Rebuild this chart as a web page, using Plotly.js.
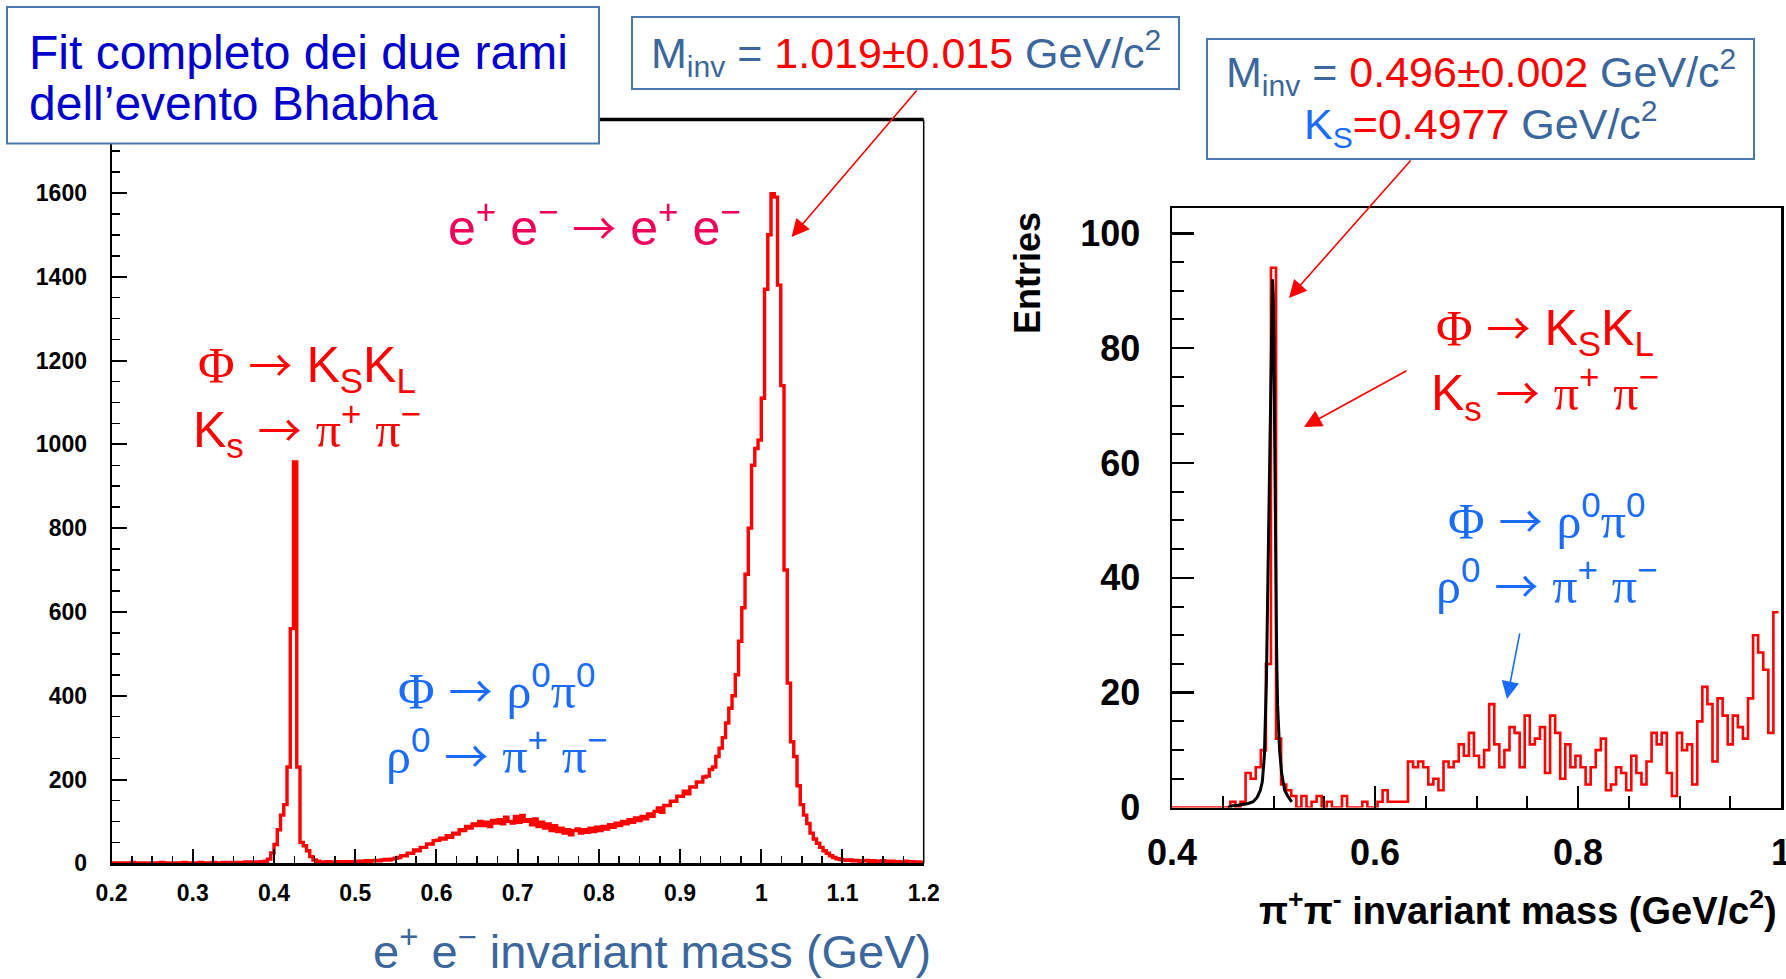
<!DOCTYPE html>
<html><head><meta charset="utf-8">
<script src="https://cdn.plot.ly/plotly-3.0.1.min.js"></script>
<style>html,body{margin:0;padding:0;background:#fff;} #chart{width:1786px;height:979px;}</style>
</head><body><div id="chart"></div>
<script>
// ---------- DATA ----------
// Left histogram: e+ e- invariant mass, bins of 0.004 GeV from 0.2 to 1.2
const leftBinStart = 0.2;
const leftBinWidth = 0.004;
const leftCounts = [
 1,0,1,1,0,1,2,1,0,1, 1,1,0,1,1,2,1,1,0,1, 1,1,2,1,1,0,1,2,1,1, 1,2,1,1,2,1,2,2,1,2,
 2,3,2,3,3,
 3,4,5,10,25,45,80,115,140,230,
 560,958,230,
 50,42,30,16,8,5,
 3,3,4,3,3,4,3,4,4,3,4,5,4,5,6,5,
 6,7,6,8,9,8,10,12,
 14,18,18,24,24,32,30,38,38,46,46,54,
 55,60,58,66,62,72,70,80,78,88,84,94,90,
 100,90,98,88,102,96,104,94,110,100,96,112,
 98,114,100,104,92,106,88,98,84,94,78,90,76,
 84,72,80,68,78,82,72,80,74,84,76,86,
 78,88,82,92,86,96,90,100,94,104,98,108,102,
 112,106,118,112,124,132,122,138,138,148,148,160,
 160,172,166,182,182,194,194,206,208,224,
 230,255,275,300,335,370,400,450,530,610,690,800,950,990,1010,
 1110,1370,1500,1598,1590,1380,1140,700,430,290,255,185,140,115,95,72,58,48,38,30,24,18,14,11,9,
 8,7,8,6,7,5,6,7,5,6,5,4,6,5,4,5,4,3,4,5,3,4,3,3,2
];
const leftXTicks = [0.2,0.3,0.4,0.5,0.6,0.7,0.8,0.9,1.0,1.1,1.2];
const leftXTickText = ['0.2','0.3','0.4','0.5','0.6','0.7','0.8','0.9','1','1.1','1.2'];
const leftYTicks = [0,200,400,600,800,1000,1200,1400,1600];
const leftYTickText = ['0','200','400','600','800','1000','1200','1400','1600'];

// Right histogram: pi+ pi- invariant mass, bins of 0.005 GeV/c2
const rightBinStart = 0.3975;
const rightBinWidth = 0.005;
const rightCounts = [
 0,0,0,0,0,0,0,0,0,0,0,0,
 1,0,1,6,5,7,10,25,94,12,
 4,3,2,0,2,0,1,2,0,1,0,0,2,0,0,0,1,0,
 0,1,3,1,1,1,1,
 8,7,8,7,4,5,3,8,7,8,11,9,13,
 9,7,10,18,11,7,10,14,13,7, 16,11,12,14,6,16,13,5,11,7,
 9,7,4,7,10,12,3,4,7,6, 3,9,6,4,8,13,11,13,6,2,
 13,10,11,4,15,21,18,8,19,16, 11,16,14,12,19,30,27,24,13,34
];
// Black K_S peak curve (right plot)
const fitX = [0.455,0.46,0.465,0.47,0.475,0.48,0.484,0.487,0.489,0.491,0.493,0.4945,0.496,0.497,0.498,0.499,0.500,0.501,0.502,0.503,0.504,0.506,0.508,0.511,0.514,0.518];
const fitY = [0,0.3,0.4,0.5,0.7,1.0,1.8,3,4.5,9,22,40,60,66,85,92,88,65,45,28,18,10,6,3,2,1];
const rightXTicks = [0.4,0.6,0.8,1.0];
const rightXTickText = ['0.4','0.6','0.8','1'];
const rightYTicks = [0,20,40,60,80,100];
const rightYTickText = ['0','20','40','60','80','100'];

// ---------- HELPERS ----------
function steps(start, width, counts) {
  const x = [], y = [];
  counts.forEach((c, i) => { x.push(start + i * width); y.push(c); });
  x.push(start + counts.length * width); y.push(counts[counts.length - 1]);
  return {x, y};
}
const W = 1786, H = 979;
const px = v => v / W, py = v => 1 - v / H;
const SANS = "'Liberation Sans', Arial, Helvetica, sans-serif";
const SERIF = "'Liberation Serif','DejaVu Serif',serif";
const sf = s => `<span style="font-family:${SERIF}">${s}</span>`;
const col = (c, s) => `<span style="color:${c}">${s}</span>`;
const RED = '#ff0000', STEEL = '#3b679c', BLUE = '#1a6cff', PINK = '#f0005a', NAVY = '#0000cc', BOXC = '#4a78ad';
const ARW = `<span style="font-family:'Noto Sans CJK JP','DejaVu Sans';font-size:44px">→</span>`;

const L = steps(leftBinStart, leftBinWidth, leftCounts);
const R = steps(rightBinStart, rightBinWidth, rightCounts);

const traces = [
  {x: L.x, y: L.y, type: 'scatter', mode: 'lines', line: {shape: 'hv', color: '#ff0000', width: 3.4}, xaxis: 'x', yaxis: 'y', hoverinfo: 'skip'},
  {x: R.x, y: R.y, type: 'scatter', mode: 'lines', line: {shape: 'hv', color: '#ff0000', width: 2.6}, xaxis: 'x2', yaxis: 'y2', hoverinfo: 'skip'},
  {x: fitX, y: fitY, type: 'scatter', mode: 'lines', line: {color: '#000', width: 3}, xaxis: 'x2', yaxis: 'y2', hoverinfo: 'skip'}
];

const baseAxis = {showgrid: false, zeroline: false, showline: true, linecolor: '#000', ticks: 'inside', tickcolor: '#000', tickmode: 'array', fixedrange: true};

const layout = {
  width: W, height: H, margin: {l: 0, r: 0, t: 0, b: 0},
  paper_bgcolor: '#fff', plot_bgcolor: '#fff', showlegend: false,
  xaxis: Object.assign({}, baseAxis, {
    domain: [px(111.6), px(923.7)], range: [0.2, 1.2], anchor: 'y',
    tickvals: leftXTicks, ticktext: leftXTickText, ticklen: 14, tickwidth: 2, linewidth: 3,
    minor: {tick0: 0.2, dtick: 0.025, ticks: 'inside', ticklen: 7, tickwidth: 1.5, tickcolor: '#000'},
    tickfont: {family: SANS, size: 23, color: '#000', weight: 'bold'}, ticklabelstandoff: 7
  }),
  yaxis: Object.assign({}, baseAxis, {
    domain: [py(863.3), py(119.6)], range: [0, 1775], anchor: 'x',
    tickvals: leftYTicks, ticktext: leftYTickText, ticklen: 15, tickwidth: 2, linewidth: 2,
    minor: {tick0: 0, dtick: 50, ticks: 'inside', ticklen: 8, tickwidth: 1.5, tickcolor: '#000'},
    tickfont: {family: SANS, size: 23, color: '#000', weight: 'bold'}, ticklabelstandoff: 18
  }),
  xaxis2: Object.assign({}, baseAxis, {
    domain: [px(1172), px(1781)], range: [0.4, 1.0], anchor: 'y2', mirror: true,
    tickvals: rightXTicks, ticktext: rightXTickText, ticklen: 22, tickwidth: 2.5, linewidth: 2.5,
    minor: {tick0: 0.4, dtick: 0.05, ticks: 'inside', ticklen: 12, tickwidth: 2, tickcolor: '#000'},
    tickfont: {family: SANS, size: 36, color: '#000', weight: 'bold'}, ticklabelstandoff: 12,
    ticklabeloverflow: 'allow'
  }),
  yaxis2: Object.assign({}, baseAxis, {
    domain: [py(807.5), py(208)], range: [0, 104.4], anchor: 'x2', mirror: true,
    tickvals: rightYTicks, ticktext: rightYTickText, ticklen: 22, tickwidth: 2.5, linewidth: 2.5,
    minor: {tick0: 0, dtick: 5, ticks: 'inside', ticklen: 12, tickwidth: 2, tickcolor: '#000'},
    tickfont: {family: SANS, size: 36, color: '#000', weight: 'bold'}, ticklabelstandoff: 22
  }),
  shapes: [
    {type: 'line', xref: 'x domain', yref: 'y domain', x0: 0, x1: 1, y0: 1, y1: 1, line: {color: '#000', width: 3.5}, layer: 'above'},
    {type: 'line', xref: 'x domain', yref: 'y domain', x0: 1, x1: 1, y0: 0, y1: 1, line: {color: '#000', width: 1.5}, layer: 'above'},
    {type: 'rect', xref: 'paper', yref: 'paper', x0: px(7), x1: px(599), y0: py(143.5), y1: py(7), fillcolor: '#fff', line: {color: BOXC, width: 2}, layer: 'above'},
    {type: 'rect', xref: 'paper', yref: 'paper', x0: px(632), x1: px(1179), y0: py(89), y1: py(17), fillcolor: '#fff', line: {color: BOXC, width: 2}, layer: 'above'},
    {type: 'rect', xref: 'paper', yref: 'paper', x0: px(1207), x1: px(1754), y0: py(159), y1: py(39), fillcolor: '#fff', line: {color: BOXC, width: 2}, layer: 'above'}
  ],
  annotations: []
};

const ann = layout.annotations;
function T(text, x, y, size, color, opts) {
  ann.push(Object.assign({xref: 'paper', yref: 'paper', x: px(x), y: py(y), text: text, showarrow: false,
    font: {family: SANS, size: size, color: color}, xanchor: 'center', yanchor: 'middle', align: 'center'}, opts || {}));
}
function A(tipX, tipY, tailX, tailY, color) {
  ann.push({xref: 'paper', yref: 'paper', x: px(tipX), y: py(tipY), ax: tailX - tipX, ay: tailY - tipY, text: '',
    showarrow: true, arrowhead: 2, arrowsize: 2.2, arrowwidth: 1.6, arrowcolor: color, standoff: 0});
}

const phiKK = sf('Φ') + ' ' + ARW + ' K<sub>S</sub>K<sub>L</sub>';
const ksPiPi = 'K<sub>s</sub> ' + ARW + ' ' + sf('π') + '<sup>+</sup> ' + sf('π') + '<sup>−</sup>';
const phiRhoPi = sf('Φ') + ' ' + ARW + ' ' + sf('ρ') + '<sup>0</sup>' + sf('π') + '<sup>0</sup>';
const rhoPiPi = sf('ρ') + '<sup>0</sup> ' + ARW + ' ' + sf('π') + '<sup>+</sup> ' + sf('π') + '<sup>−</sup>';

// box texts
T('Fit completo dei due rami', 27, 52, 48, NAVY, {xanchor: 'left'});
T('dell’evento Bhabha', 27, 104, 48, NAVY, {xanchor: 'left'});
T('M<sub>inv</sub> = ' + col(RED, '1.019±0.015') + ' GeV/c<sup>2</sup>', 905.5, 53, 43, STEEL);
T('M<sub>inv</sub> = ' + col(RED, '0.496±0.002') + ' GeV/c<sup>2</sup>', 1480.5, 72, 43, STEEL);
T(col(BLUE, 'K<sub>S</sub>') + col(RED, '=0.4977') + ' GeV/c<sup>2</sup>', 1480.5, 124, 43, STEEL);

// left plot labels
T('e<sup>+</sup> e<sup>−</sup> ' + ARW + ' e<sup>+</sup> e<sup>−</sup>', 594.5, 225, 50, PINK);
T(phiKK + '<br>' + ksPiPi, 307, 398, 50, RED);
T(phiRhoPi + '<br>' + rhoPiPi, 497, 720, 50, BLUE);

// right plot labels
T(phiKK + '<br>' + ksPiPi, 1545, 361, 50, RED);
T(phiRhoPi + '<br>' + rhoPiPi, 1546.5, 550, 50, BLUE);

// axis titles
T('e<sup>+</sup> e<sup>−</sup> invariant mass (GeV)', 652, 948, 47, STEEL);
T('π<sup>+</sup>π<sup>-</sup> invariant mass (GeV/c<sup>2</sup>)', 1779, 908, 38, '#000', {xanchor: 'right', font: {family: SANS, size: 38, color: '#000', weight: 'bold'}});
T('Entries', 1028, 273, 36, '#000', {textangle: -90, font: {family: SANS, size: 36, color: '#000', weight: 'bold'}});

// arrows
A(791.6, 237, 918, 89, RED);
A(1289, 298, 1412, 159, RED);
A(1304, 427, 1408, 370, RED);
A(1507, 699, 1520, 632, BLUE);

Plotly.newPlot('chart', traces, layout, {staticPlot: true, displayModeBar: false});
</script>
</body></html>
